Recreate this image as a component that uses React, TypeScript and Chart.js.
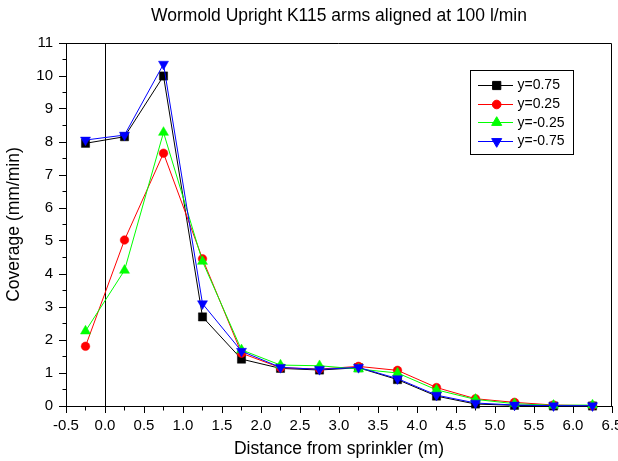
import React, { useEffect, useRef } from 'react';
import { Chart, registerables } from 'chart.js';
import { drawPoint } from 'chart.js/helpers';

Chart.register(...registerables);

const TITLE = 'Wormold Upright K115 arms aligned at 100 l/min';
const X_LABEL = 'Distance from sprinkler (m)';
const Y_LABEL = 'Coverage (mm/min)';

const distances = [-0.25, 0.25, 0.75, 1.25, 1.75, 2.25, 2.75, 3.25, 3.75, 4.25, 4.75, 5.25, 5.75, 6.25];

const seriesLabels = ['y=0.75', 'y=0.25', 'y=-0.25', 'y=-0.75'];

const coverageY075 = [7.96, 8.16, 10.0, 2.70, 1.42, 1.14, 1.09, 1.16, 0.80, 0.30, 0.06, 0.02, 0.0, 0.0];
const coverageY025 = [1.81, 5.03, 7.66, 4.46, 1.60, 1.16, 1.12, 1.20, 1.08, 0.56, 0.22, 0.11, 0.03, 0.01];
const coverageYm025 = [2.27, 4.11, 8.29, 4.38, 1.70, 1.24, 1.22, 1.12, 1.00, 0.49, 0.20, 0.07, 0.02, 0.03];
const coverageYm075 = [8.06, 8.21, 10.36, 3.10, 1.66, 1.17, 1.11, 1.17, 0.83, 0.33, 0.09, 0.03, 0.01, 0.01];

const seriesValues = [coverageY075, coverageY025, coverageYm025, coverageYm075];
const seriesColors = ['#000000', '#ff0000', '#00ff00', '#0000ff'];
const seriesPointStyles = ['rect', 'circle', 'triangle', 'triangle'];
const seriesPointRotation = [0, 0, 0, 180];
const seriesPointRadius = [5.8, 4.3, 5.8, 5.8];
const seriesOrder = [3, 2, 1, 0];

const FONT = "'Liberation Sans', Arial, sans-serif";

const isMultiple = (v: number, step: number) => Math.abs(v / step - Math.round(v / step)) < 1e-9;

const decorPlugin = {
  id: 'decor',
  beforeDatasetsDraw(chart: any) {
    const { ctx, chartArea } = chart;
    ctx.save();
    ctx.strokeStyle = '#000';
    ctx.lineWidth = 1;
    ctx.beginPath();
    const top = Math.round(chartArea.top) + 0.5;
    const right = Math.round(chartArea.right) - 0.5;
    ctx.moveTo(chartArea.left, top);
    ctx.lineTo(right, top);
    ctx.lineTo(right, chartArea.bottom);
    ctx.stroke();
    ctx.restore();
  },
  afterDraw(chart: any) {
    const { ctx, chartArea } = chart;
    ctx.save();
    // title
    ctx.fillStyle = '#000';
    ctx.font = `17.5px ${FONT}`;
    ctx.textAlign = 'center';
    ctx.textBaseline = 'alphabetic';
    ctx.fillText(TITLE, (chartArea.left + chartArea.right) / 2, 21);

    // legend
    const boxRight = chartArea.right - 39;
    const boxLeft = boxRight - 103;
    const boxTop = chartArea.top + 27;
    const rowStep = 18.7;
    const boxHeight = 84;
    ctx.strokeStyle = '#000';
    ctx.lineWidth = 1;
    ctx.strokeRect(Math.round(boxLeft) + 0.5, Math.round(boxTop) + 0.5, 103, boxHeight);

    chart.data.datasets.forEach((ds: any, i: number) => {
      const y = boxTop + 15 + i * rowStep;
      ctx.strokeStyle = ds.borderColor;
      ctx.lineWidth = 1;
      ctx.beginPath();
      ctx.moveTo(boxLeft + 8, Math.round(y) + 0.5);
      ctx.lineTo(boxLeft + 43, Math.round(y) + 0.5);
      ctx.stroke();
      ctx.fillStyle = ds.pointBackgroundColor;
      ctx.strokeStyle = ds.pointBorderColor;
      drawPoint(ctx, {
        pointStyle: ds.pointStyle,
        rotation: ds.pointRotation,
        radius: ds.pointRadius,
        borderWidth: ds.pointBorderWidth,
      } as any, boxLeft + 26.7, Math.round(y) + 0.5);
      ctx.fillStyle = '#000';
      ctx.font = `14px ${FONT}`;
      ctx.textAlign = 'left';
      ctx.textBaseline = 'middle';
      ctx.fillText(ds.label, boxLeft + 47.5, y + 0.5);
    });
    ctx.restore();
  },
};

export default function App() {
  const canvasRef = useRef<HTMLCanvasElement | null>(null);

  useEffect(() => {
    if (!canvasRef.current) return;
    Chart.defaults.font.family = FONT;
    const datasets = seriesLabels.map((label, i) => ({
      label,
      data: distances.map((x, j) => ({ x, y: seriesValues[i][j] })),
      borderColor: seriesColors[i],
      backgroundColor: seriesColors[i],
      borderWidth: 1,
      pointStyle: seriesPointStyles[i],
      pointRotation: seriesPointRotation[i],
      pointRadius: seriesPointRadius[i],
      pointBorderWidth: 0.5,
      pointBorderColor: seriesColors[i],
      pointBackgroundColor: seriesColors[i],
      tension: 0,
      clip: false,
      order: seriesOrder[i],
    }));

    const chart = new Chart(canvasRef.current, {
      type: 'line',
      data: { datasets },
      plugins: [decorPlugin],
      options: {
        animation: false,
        responsive: false,
        maintainAspectRatio: false,
        layout: { padding: { top: 43, right: 28, bottom: 0, left: 0 } },
        plugins: {
          legend: { display: false },
          title: { display: false },
          tooltip: { enabled: false },
        },
        scales: {
          x: {
            type: 'linear',
            min: -0.5,
            max: 6.5,
            ticks: {
              stepSize: 0.25,
              autoSkip: false,
              maxRotation: 0,
              minRotation: 0,
              padding: 4,
              color: '#000',
              font: { size: 15, family: FONT },
              callback: (v: any) => (isMultiple(Number(v), 0.5) ? Number(v).toFixed(1) : ''),
            },
            grid: {
              drawOnChartArea: true,
              color: (c: any) => (c.tick && Math.abs(c.tick.value) < 1e-9 ? '#000' : 'rgba(0,0,0,0)'),
              tickColor: '#000',
              tickLength: 7,
              lineWidth: 1,
              tickBorderDash: (c: any) => (c.tick && !isMultiple(c.tick.value, 0.5) ? [3.5, 20] : []),
            },
            border: { display: true, color: '#000', width: 1 },
            title: {
              display: true,
              text: X_LABEL,
              color: '#000',
              font: { size: 17.5, family: FONT },
              padding: { top: 0, bottom: 1.5 },
            },
            afterFit: (s: any) => {
              s.height = 55;
            },
          },
          y: {
            type: 'linear',
            min: 0,
            max: 11,
            ticks: {
              stepSize: 0.5,
              autoSkip: false,
              padding: 6,
              color: '#000',
              font: { size: 15, family: FONT },
              callback: (v: any) => (isMultiple(Number(v), 1) ? String(Math.round(Number(v))) : ''),
            },
            grid: {
              drawOnChartArea: false,
              tickColor: '#000',
              tickLength: 7,
              lineWidth: 1,
              tickBorderDash: (c: any) => (c.tick && !isMultiple(c.tick.value, 1) ? [3.5, 3.5] : []),
              tickBorderDashOffset: (c: any) => (c.tick && !isMultiple(c.tick.value, 1) ? 3.5 : 0),
            },
            border: { display: true, color: '#000', width: 1 },
            title: {
              display: true,
              text: Y_LABEL,
              color: '#000',
              font: { size: 17.5, family: FONT },
              padding: { top: 4, bottom: 0 },
            },
            afterFit: (s: any) => {
              s.width = 66;
            },
          },
        },
      } as any,
    });
    return () => chart.destroy();
  }, []);

  return (
    <div style={{ position: 'absolute', left: 0, top: 0, width: 618, height: 461, overflow: 'hidden', background: '#fff' }}>
      <canvas ref={canvasRef} width={640} height={461} style={{ display: 'block' }} />
    </div>
  );
}
